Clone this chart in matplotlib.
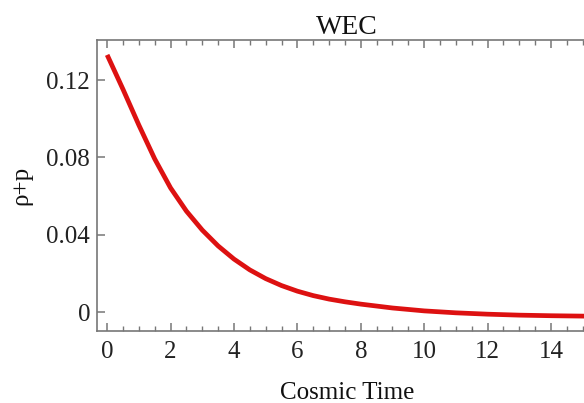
import matplotlib.pyplot as plt
from matplotlib.ticker import MultipleLocator

# values
cosmic_time = [0, 0.5, 1, 1.5, 2, 2.5, 3, 3.5, 4, 4.5, 5, 5.5, 6, 6.5, 7, 7.5, 8,
               9, 10, 11, 12, 13, 14, 15, 15.5]
rho_plus_p = [0.133, 0.1152, 0.0967, 0.0792, 0.0642, 0.0522, 0.0424, 0.0342,
              0.0274, 0.0218, 0.0173, 0.0137, 0.0108, 0.0085, 0.0067, 0.0053,
              0.0041, 0.0021, 0.0006, -0.0004, -0.0011, -0.0016, -0.0019,
              -0.0021, -0.0022]
x_ticks = [0, 2, 4, 6, 8, 10, 12, 14]
y_ticks = [0, 0.04, 0.08, 0.12]
y_tick_labels = ['0', '0.04', '0.08', '0.12']

plt.rcParams['font.family'] = ['Liberation Serif', 'DejaVu Serif']

fig = plt.figure(figsize=(5.84, 4.03), dpi=100)
# frame runs past the right edge of the image, like the reference crop
ax = fig.add_axes([97 / 584, 1 - 331 / 403, 500 / 584, 291 / 403])

ax.plot(cosmic_time, rho_plus_p, color='#dd1111', lw=3.4, solid_capstyle='butt',
        solid_joinstyle='round')

ax.set_xlim(-0.32, 15.45)
ax.set_ylim(-0.0098, 0.1407)
ax.set_xticks(x_ticks)
ax.set_yticks(y_ticks)
ax.set_yticklabels(y_tick_labels)
ax.xaxis.set_minor_locator(MultipleLocator(0.5))

spine_col = '#777777'
for s in ax.spines.values():
    s.set_color(spine_col)
    s.set_linewidth(1.2)
ax.spines['right'].set_visible(False)

ax.tick_params(axis='both', which='both', direction='in', colors=spine_col,
               labelcolor='#222222', labelsize=18, top=True, right=False)
ax.tick_params(axis='both', which='major', length=6, width=1.1)
ax.tick_params(axis='both', which='minor', length=3.5, width=1.0)
ax.tick_params(axis='x', which='major', pad=7)
ax.tick_params(axis='y', which='major', pad=5)

ax.set_title('WEC', fontsize=20, color='#111111', pad=3)
ax.set_xlabel('Cosmic Time', fontsize=18, color='#111111', labelpad=14)
ax.set_ylabel('ρ+p', fontsize=18, color='#111111', labelpad=10)

fig.savefig('out.png', dpi=100)
